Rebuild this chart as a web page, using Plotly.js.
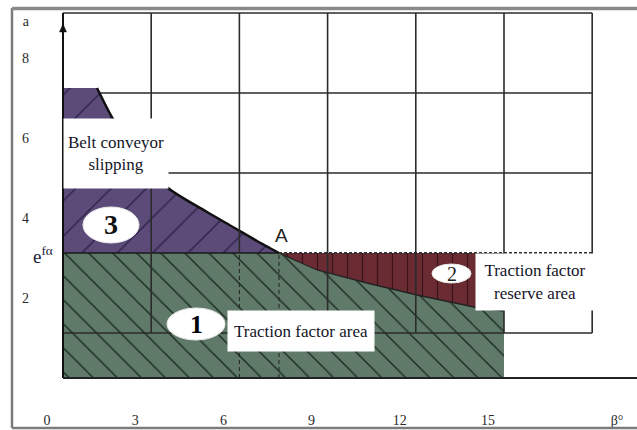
<!DOCTYPE html>
<html>
<head>
<meta charset="utf-8">
<script src="https://cdn.plot.ly/plotly-3.0.1.min.js"></script>
<style>
  html, body { margin: 0; padding: 0; background: #ffffff; }
  #chart { width: 637px; height: 430px; }
</style>
</head>
<body>
<div id="chart"></div>
<script>
// ---------- data ----------
const betaTicks = [0, 3, 6, 9, 12, 15];
const betaTickText = ['0', '3', '6', '9', '12', '15'];
const betaUnitPos = 19.39;          // where the "β°" unit label sits
const betaUnitText = 'β°';
const eTicks = [2, 4, 6, 8];
const eTickText = ['2', '4', '6', '8'];
const eUnitPos = 8.925;             // the "a" at the top of the vertical axis
const eUnitText = 'a';

// boundary curve e^{fα}(β) between the zones
const curveBeta = [1.701, 2.245, 2.993, 4.116, 5.442, 6.327, 7.143, 7.891, 9.184, 10.884, 12.585, 14.524, 15.544];
const curveE    = [7.25,  6.475, 5.725, 4.75,  4.15,  3.775, 3.425, 3.125, 2.70,  2.375,  2.075,  1.775,  1.675];
const pointA = { beta: 7.891, e: 3.125, label: 'A' };

const zoneStart = 0.544;   // left edge of the zones (vertical axis)
const zoneEnd = 15.544;    // right edge of zones 1 and 2
const efaLevel = 3.125;    // e^{fα} level
const slipTop = 7.25;      // top of the slipping zone

// grid positions
const gridBeta = [0.544, 3.544, 6.544, 9.544, 12.544, 15.544, 18.544];
const gridE = [1.125, 3.125, 5.125, 7.125, 9.125];

const zoneLabels = ['Traction factor area', 'Traction factor<br>reserve area', 'Belt conveyor<br>slipping'];
const zoneNumbers = ['1', '2', '3'];

// ---------- styling ----------
const SERIF = 'Liberation Serif';
const SANS = 'Liberation Sans';
const GREEN = '#607a69';
const PURPLE = '#5c4b79';
const MAROON = '#6a2b33';
const GRIDC = '#2b2b2b';

const aIdx = curveBeta.indexOf(pointA.beta);
const upperB = curveBeta.slice(0, aIdx + 1), upperE = curveE.slice(0, aIdx + 1);
const lowerB = curveBeta.slice(aIdx), lowerE = curveE.slice(aIdx);

const traces = [
  { // zone 1 – traction factor area
    x: [zoneStart, zoneStart].concat(lowerB, [zoneEnd]),
    y: [0, efaLevel].concat(lowerE, [0]),
    mode: 'lines', fill: 'toself', line: { width: 0, color: GREEN },
    fillcolor: GREEN,
    fillpattern: { shape: '\\', fgcolor: '#16221b', bgcolor: GREEN, size: 17, solidity: 0.07 },
    hoverinfo: 'skip'
  },
  { // zone 3 – slipping
    x: [zoneStart, zoneStart].concat(upperB),
    y: [efaLevel, slipTop].concat(upperE),
    mode: 'lines', fill: 'toself', line: { width: 0, color: PURPLE },
    fillcolor: PURPLE,
    fillpattern: { shape: '/', fgcolor: '#2a1f44', bgcolor: PURPLE, size: 25, solidity: 0.05 },
    hoverinfo: 'skip'
  },
  { // zone 2 – reserve
    x: lowerB.concat([zoneEnd]),
    y: lowerE.concat([efaLevel]),
    mode: 'lines', fill: 'toself', line: { width: 0, color: MAROON },
    fillcolor: MAROON,
    fillpattern: { shape: '|', fgcolor: '#3a1218', bgcolor: MAROON, size: 15, solidity: 0.08 },
    hoverinfo: 'skip'
  },
  { x: upperB, y: upperE, mode: 'lines', line: { color: '#111', width: 2.5, shape: 'spline', smoothing: 0.6 }, hoverinfo: 'skip' },
  { x: lowerB, y: lowerE, mode: 'lines', line: { color: '#222', width: 1.3 }, hoverinfo: 'skip' }
];

// ---------- shapes: grid, axes, frame ----------
const shapes = [];
gridE.forEach(function (e) {
  if (e === efaLevel) {
    shapes.push({ type: 'line', xref: 'x', yref: 'y', x0: zoneStart, x1: pointA.beta, y0: e, y1: e,
      line: { color: '#1a1a1a', width: 1.5 }, layer: 'above' });
    shapes.push({ type: 'line', xref: 'x', yref: 'y', x0: pointA.beta, x1: gridBeta[gridBeta.length - 1], y0: e, y1: e,
      line: { color: '#333', width: 2, dash: '3px,2px' }, layer: 'above' });
  } else {
    shapes.push({ type: 'line', xref: 'x', yref: 'y', x0: zoneStart, x1: gridBeta[gridBeta.length - 1], y0: e, y1: e,
      line: { color: GRIDC, width: 1.6 }, layer: e > efaLevel ? 'below' : 'above' });
  }
});
gridBeta.forEach(function (b, i) {
  if (i === 0) return;
  if (b === 6.544) {
    shapes.push({ type: 'line', xref: 'x', yref: 'y', x0: b, x1: b, y0: efaLevel, y1: gridE[gridE.length - 1],
      line: { color: GRIDC, width: 1.6 }, layer: 'above' });
    shapes.push({ type: 'line', xref: 'x', yref: 'y', x0: b, x1: b, y0: 0, y1: efaLevel,
      line: { color: '#222', width: 1, dash: '4px,3px' }, layer: 'above' });
  } else {
    shapes.push({ type: 'line', xref: 'x', yref: 'y', x0: b, x1: b, y0: gridE[0], y1: gridE[gridE.length - 1],
      line: { color: GRIDC, width: 1.6 }, layer: 'above' });
  }
});
// dashed drop line at A
shapes.push({ type: 'line', xref: 'x', yref: 'y', x0: pointA.beta, x1: pointA.beta, y0: 0, y1: pointA.e,
  line: { color: '#222', width: 1, dash: '4px,3px' }, layer: 'above' });
// vertical axis
shapes.push({ type: 'line', xref: 'x', yref: 'y', x0: zoneStart, x1: zoneStart, y0: 0, y1: gridE[gridE.length - 1],
  line: { color: '#111', width: 2 }, layer: 'above' });
// arrow head on the vertical axis
shapes.push({ type: 'path', xref: 'x', yref: 'y', xsizemode: 'pixel', ysizemode: 'pixel',
  xanchor: zoneStart, yanchor: 8.75, path: 'M -3.5 -4 L 3.5 -4 L 0 4 Z',
  fillcolor: '#111', line: { color: '#111', width: 0.5 }, layer: 'above' });
// horizontal axis
shapes.push({ type: 'line', xref: 'x', yref: 'paper', x0: zoneStart, x1: 21, y0: 0.1 / 9.25, y1: 0.1 / 9.25,
  line: { color: '#222', width: 2.2 }, layer: 'above' });

// ovals
const ovals = [
  { x0: 4.082, x1: 6.054, y0: 0.95, y1: 1.75 },
  { x0: 13.095, x1: 14.422, y0: 2.375, y1: 2.85 },
  { x0: 1.224, x1: 3.129, y0: 3.375, y1: 4.275 }
];
ovals.forEach(function (o) {
  shapes.push({ type: 'circle', xref: 'x', yref: 'y', x0: o.x0, x1: o.x1, y0: o.y0, y1: o.y1,
    fillcolor: '#ffffff', line: { color: '#e8e8e8', width: 1 }, layer: 'above' });
});

// outer frame (paper coords from pixels)
const PL = 40, PW = 597, PT = 12, PH = 370;
function px(v) { return (v - PL) / PW; }
function py(v) { return (PT + PH - v) / PH; }
const FR = '#7c7c7c';
shapes.push({ type: 'line', xref: 'paper', yref: 'paper', x0: px(12), x1: px(12), y0: py(8), y1: py(428), line: { color: FR, width: 2.5 } });
shapes.push({ type: 'line', xref: 'paper', yref: 'paper', x0: px(12), x1: px(640), y0: py(8.5), y1: py(8.5), line: { color: '#8a8a8a', width: 3.5 } });
shapes.push({ type: 'line', xref: 'paper', yref: 'paper', x0: px(12), x1: px(640), y0: py(428), y1: py(428), line: { color: FR, width: 2.5 } });

// ---------- annotations ----------
const annotations = [
  { x: 8.639, y: 1.175, xref: 'x', yref: 'y', text: zoneLabels[0], showarrow: false,
    font: { family: SERIF, size: 17, color: '#141428' }, bgcolor: '#ffffff', width: 144, height: 38 },
  { x: 16.6, y: 2.4, xref: 'x', yref: 'y', text: zoneLabels[1], showarrow: false,
    font: { family: SERIF, size: 17, color: '#141428' }, bgcolor: '#ffffff', width: 116, height: 54 },
  { x: 2.347, y: 5.61, xref: 'x', yref: 'y', text: zoneLabels[2], showarrow: false,
    font: { family: SERIF, size: 17, color: '#141428' }, bgcolor: '#ffffff', width: 102, height: 67 },
  { x: 5.068, y: 1.35, xref: 'x', yref: 'y', text: '<b>' + zoneNumbers[0] + '</b>', showarrow: false,
    font: { family: SERIF, size: 26, color: '#000' } },
  { x: 13.76, y: 2.61, xref: 'x', yref: 'y', text: zoneNumbers[1], showarrow: false,
    font: { family: SERIF, size: 20, color: '#222' } },
  { x: 2.18, y: 3.83, xref: 'x', yref: 'y', text: '<b>' + zoneNumbers[2] + '</b>', showarrow: false,
    font: { family: SERIF, size: 28, color: '#111' } },
  { x: pointA.beta + 0.07, y: pointA.e + 0.43, xref: 'x', yref: 'y', text: pointA.label, showarrow: false,
    font: { family: SANS, size: 19, color: '#222' } },
  { x: px(31), y: py(255), xref: 'paper', yref: 'paper', text: 'e<sup>fα</sup>', showarrow: false,
    font: { family: SERIF, size: 19, color: '#1b1b3b' } }
];

const layout = {
  width: 637, height: 430,
  margin: { l: PL, r: 0, t: PT, b: 430 - PT - PH },
  paper_bgcolor: '#ffffff', plot_bgcolor: '#ffffff',
  showlegend: false,
  xaxis: {
    range: [-0.238, 20.068], showgrid: false, zeroline: false, showline: false, ticks: '',
    tickmode: 'array', tickvals: betaTicks.concat([betaUnitPos]), ticktext: betaTickText.concat([betaUnitText]),
    tickfont: { family: SERIF, size: 14, color: '#2a2a2a' }, ticklabelstandoff: 28, fixedrange: true
  },
  yaxis: {
    range: [-0.1, 9.15], showgrid: false, zeroline: false, showline: false, ticks: '',
    tickmode: 'array', tickvals: eTicks.concat([eUnitPos]), ticktext: eTickText.concat([eUnitText]),
    tickfont: { family: SERIF, size: 14, color: '#2a2a2a' }, ticklabelstandoff: 10, fixedrange: true
  },
  shapes: shapes,
  annotations: annotations
};

Plotly.newPlot('chart', traces, layout, { staticPlot: true, displayModeBar: false });
</script>
</body>
</html>
